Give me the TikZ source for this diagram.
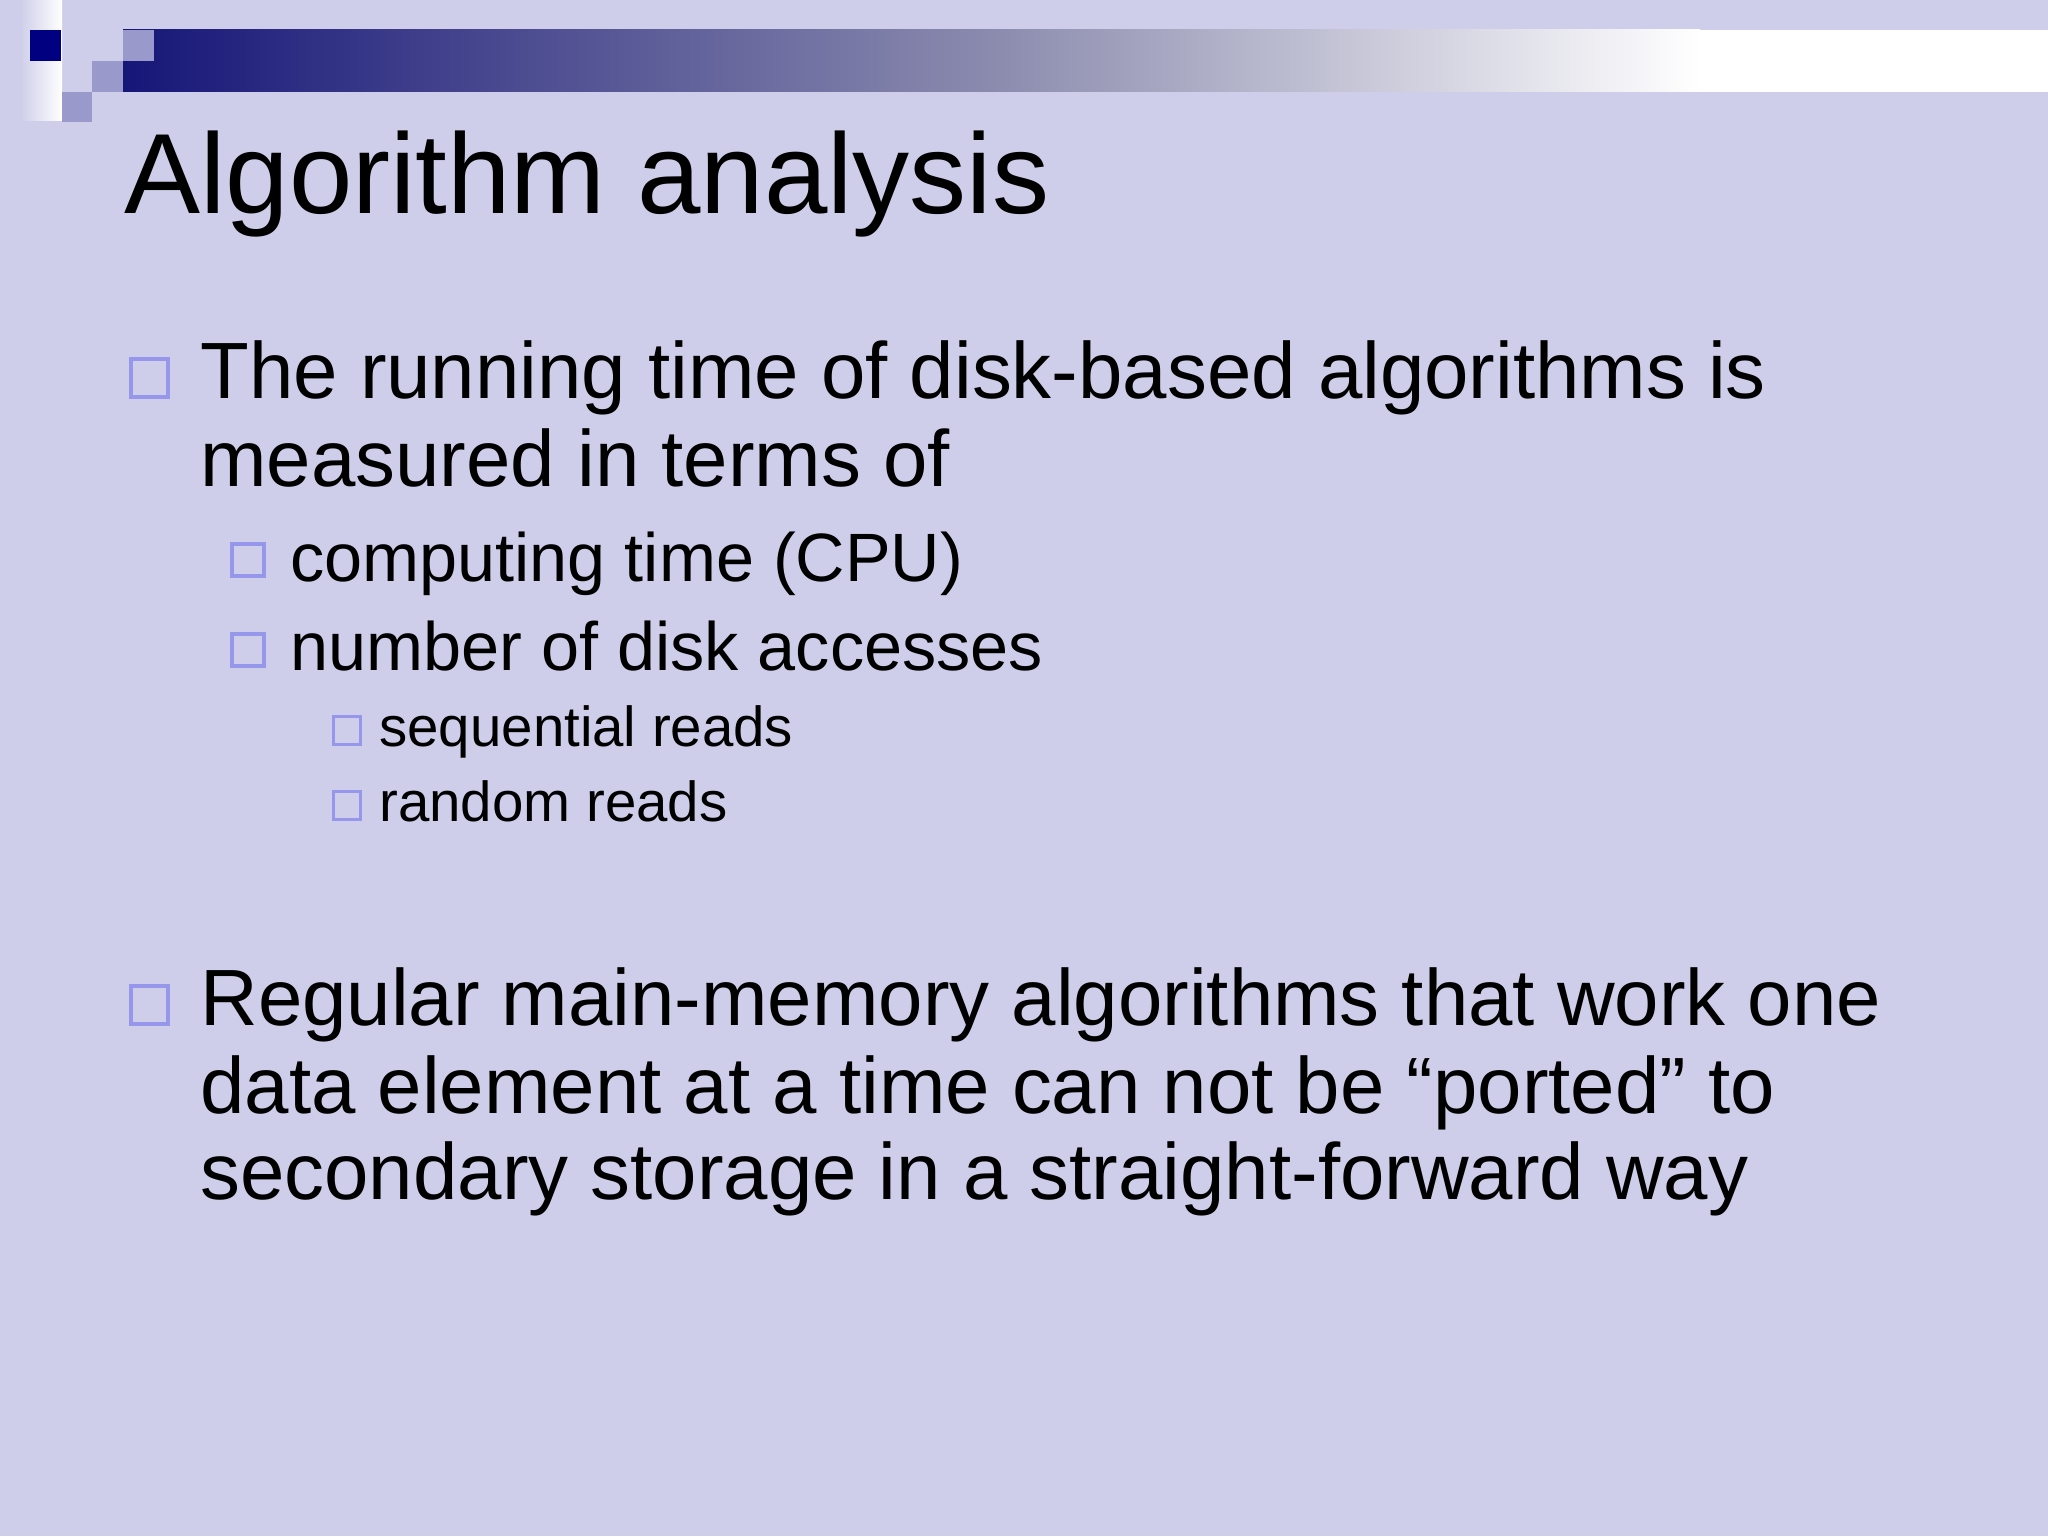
\documentclass[tikz,border=0pt]{standalone}
\usepackage{fontspec}
\setmainfont{Liberation Sans}
\definecolor{bg}{RGB}{206,206,234}
\definecolor{navy}{RGB}{0,0,128}
\definecolor{sq}{RGB}{153,153,204}
\definecolor{bul}{RGB}{150,150,235}
\definecolor{bmid}{RGB}{140,140,175}
\definecolor{bnav}{RGB}{22,22,120}
\begin{document}
\begin{tikzpicture}[x=0.5pt,y=-0.5pt,
  txt/.style={anchor=base west,inner sep=0pt,text=black},
  la/.style={txt,font=\fontsize{39.9}{44}\selectfont},
  lb/.style={txt,font=\fontsize{34.2}{38}\selectfont},
  lc/.style={txt,font=\fontsize{28.2}{32}\selectfont},
  bx/.style={draw=bul,line width=2.2pt}]
\fill[bg] (0,0) rectangle (2048,1536);
\useasboundingbox (0,0) rectangle (2048,1536);
\shade[left color=bg,right color=white] (20,0) rectangle (62,120);
\shade[left color=bnav,right color=bmid] (123,30) rectangle (1000,92);
\shade[left color=bmid,right color=white] (1000,30) rectangle (1700,92);
\fill[white] (1700,30) rectangle (2048,92);
\fill[bnav] (92,61) rectangle (123,92);
\fill[navy] (30,30) rectangle (61,61);
\fill[sq] (123,30) rectangle (154,61);
\fill[sq] (92,61) rectangle (123,92);
\fill[sq] (62,92) rectangle (92,122);
\node[txt,font=\fontsize{57}{64}\selectfont] (title) at (124,213) {Algorithm analysis};
\draw[bx] (131,359) rectangle (168,397);
\node[la] (a1) at (200,398) {The running time of disk-based algorithms is};
\node[la] (a2) at (200,486) {measured in terms of};
\draw[bx,line width=1.8pt] (232,544) rectangle (264,576);
\node[lb] (b1) at (290,581) {computing time (CPU)};
\draw[bx,line width=1.8pt] (232,634) rectangle (264,666);
\node[lb] (b2) at (290,670) {number of disk accesses};
\draw[bx,line width=1.5pt] (333,716) rectangle (360,744);
\node[lc] (c1) at (379,746) {sequential reads};
\draw[bx,line width=1.5pt] (333,791) rectangle (360,819);
\node[lc] (c2) at (379,821) {random reads};
\draw[bx] (131,986) rectangle (168,1024);
\node[la] (d1) at (200,1025) {Regular main-memory algorithms that work one};
\node[la] (d2) at (200,1113) {data element at a time can not be “ported” to};
\node[la] (d3) at (200,1199) {secondary storage in a straight-forward way};
\end{tikzpicture}
\end{document}
